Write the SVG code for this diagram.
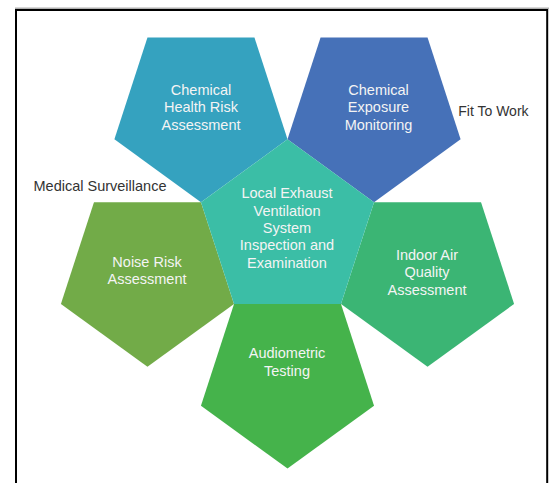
<svg xmlns="http://www.w3.org/2000/svg" width="549" height="483" viewBox="0 0 549 483">
  <style>
    .t { font-family: "Liberation Sans", Arial, sans-serif; font-size: 14.5px; fill: #F4F4F4; text-anchor: middle; }
    .lbl { font-family: "Liberation Sans", Arial, sans-serif; font-size: 14.5px; fill: #333333; }
  </style>
  <rect x="0" y="0" width="549" height="483" fill="#FFFFFF"/>
  <g id="frame">
    <line x1="15" y1="8.2" x2="549" y2="8.2" stroke="#B0B0B0" stroke-width="1.4"/>
    <path d="M16,483 V10 H547.2 V483" fill="none" stroke="#000000" stroke-width="2"/>
  </g>
  <g id="connectors"></g>
  <g id="node-chra">
    <polygon points="147.46,37.56 254.44,37.56 287.5,139.3 200.95,202.18 114.4,139.3" fill="#35A2BF"/>
    <text class="t" x="201" y="95">Chemical</text>
    <text class="t" x="201" y="112.3">Health Risk</text>
    <text class="t" x="201" y="129.6">Assessment</text>
  </g>
  <g id="node-cem">
    <polygon points="320.56,37.56 427.54,37.56 460.6,139.3 374.05,202.18 287.5,139.3" fill="#4671B8"/>
    <text class="t" x="378.5" y="95">Chemical</text>
    <text class="t" x="378.5" y="112.3">Exposure</text>
    <text class="t" x="378.5" y="129.6">Monitoring</text>
  </g>
  <g id="node-iaq">
    <polygon points="374.05,202.18 481.03,202.18 514.09,303.92 427.54,366.8 340.99,303.92" fill="#3BB574"/>
    <text class="t" x="427" y="260">Indoor Air</text>
    <text class="t" x="427" y="277.3">Quality</text>
    <text class="t" x="427" y="294.6">Assessment</text>
  </g>
  <g id="node-audio">
    <polygon points="234.01,303.92 340.99,303.92 374.05,405.66 287.5,468.54 200.95,405.66" fill="#45B34B"/>
    <text class="t" x="287" y="358.3">Audiometric</text>
    <text class="t" x="287" y="375.6">Testing</text>
  </g>
  <g id="node-noise">
    <polygon points="93.97,202.18 200.95,202.18 234.01,303.92 147.46,366.8 60.91,303.92" fill="#72AB48"/>
    <text class="t" x="147" y="266.7">Noise Risk</text>
    <text class="t" x="147" y="284">Assessment</text>
  </g>
  <g id="node-lev">
    <polygon points="287.5,139.3 374.05,202.18 340.99,303.92 234.01,303.92 200.95,202.18" fill="#3BBEA6"/>
    <text class="t" x="287" y="198.3">Local Exhaust</text>
    <text class="t" x="287" y="215.6">Ventilation</text>
    <text class="t" x="287" y="232.9">System</text>
    <text class="t" x="287" y="250.2">Inspection and</text>
    <text class="t" x="287" y="267.5">Examination</text>
  </g>
  <g id="label-medical">
    <text class="lbl" x="33.5" y="190.6">Medical Surveillance</text>
  </g>
  <g id="label-fit">
    <text class="lbl" x="458.3" y="115.7" style="font-size:14px">Fit To Work</text>
  </g>
</svg>
